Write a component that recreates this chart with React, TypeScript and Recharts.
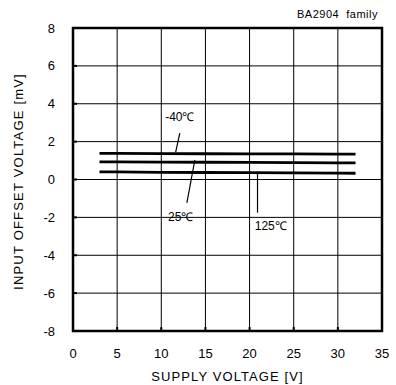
import React from 'react';
import {
  LineChart, Line, XAxis, YAxis, CartesianGrid, ReferenceLine, ReferenceDot, ReferenceArea, Label,
} from 'recharts';

const supplyVoltage = [3, 5, 10, 15, 20, 25, 30, 32];
const offsetM40 = [1.38, 1.38, 1.37, 1.36, 1.35, 1.35, 1.34, 1.34];
const offset25 = [0.93, 0.93, 0.92, 0.91, 0.9, 0.89, 0.88, 0.88];
const offset125 = [0.4, 0.4, 0.38, 0.37, 0.36, 0.35, 0.34, 0.33];

const xTicks = [0, 5, 10, 15, 20, 25, 30, 35];
const yTicks = [-8, -6, -4, -2, 0, 2, 4, 6, 8];

const labels = [
  { text: '-40℃', x: 12.1, y: 3.3, lx1: 12.1, ly1: 2.45, lx2: 11.63, ly2: 1.45 },
  { text: '25℃', x: 12.2, y: -1.95, lx1: 13.8, ly1: 1.03, lx2: 12.9, ly2: -1.24 },
  { text: '125℃', x: 22.4, y: -2.45, lx1: 20.9, ly1: 0.41, lx2: 20.9, ly2: -1.75 },
];

const data = supplyVoltage.map((v, i) => ({
  v,
  m40: offsetM40[i],
  t25: offset25[i],
  t125: offset125[i],
}));

const FONT = 'Liberation Sans, Arial, sans-serif';

const YTitle = (props: any) => {
  const vb = props.viewBox;
  const cx = vb.x + 18;
  const cy = vb.y + vb.height / 2 + 2;
  return (
    <text
      x={cx}
      y={cy}
      transform={`rotate(-90 ${cx} ${cy})`}
      textAnchor="middle"
      dominantBaseline="central"
      fontSize={13}
      letterSpacing={1.2}
      fontFamily={FONT}
      fill="#000"
    >
      INPUT OFFSET VOLTAGE [mV]
    </text>
  );
};

export default function App() {
  return (
    <div style={{ position: 'absolute', left: 0, top: 0, width: 396, height: 385, background: '#fff' }}>
      <div
        style={{
          position: 'absolute',
          right: 18,
          top: 7,
          fontFamily: FONT,
          fontSize: 11,
          letterSpacing: 0.5,
          color: '#000',
          whiteSpace: 'pre',
          lineHeight: '14px',
        }}
      >
        {'BA2904  family'}
      </div>
      <LineChart
        width={396}
        height={385}
        data={data}
        margin={{ top: 28, right: 14, left: 0, bottom: 0 }}
      >
        <CartesianGrid stroke="#000" strokeWidth={1} horizontalValues={yTicks} verticalValues={xTicks} />
        <XAxis
          dataKey="v"
          type="number"
          domain={[0, 35]}
          ticks={xTicks}
          allowDataOverflow
          height={54}
          axisLine={false}
          tickLine={{ stroke: '#000', strokeWidth: 2 }}
          tickSize={-4}
          tickMargin={22}
          tick={{ fill: '#000', fontSize: 13, fontFamily: FONT }}
        >
          <Label
            value="SUPPLY VOLTAGE [V]"
            position="insideBottom"
            offset={4}
            style={{ fontSize: 13, fontFamily: FONT, fill: '#000', letterSpacing: 1.1 }}
          />
        </XAxis>
        <YAxis
          type="number"
          domain={[-8, 8]}
          ticks={yTicks}
          allowDataOverflow
          width={73}
          axisLine={false}
          tickLine={{ stroke: '#000', strokeWidth: 2 }}
          tickSize={-4}
          tickMargin={22}
          tick={{ fill: '#000', fontSize: 13, fontFamily: FONT }}
        >
          <Label content={YTitle} />
        </YAxis>
        <ReferenceArea x1={0} x2={35} y1={-8} y2={8} fill="none" stroke="#000" strokeWidth={2.5} ifOverflow="visible" />
        <Line dataKey="m40" stroke="#000" strokeWidth={2.8} dot={false} isAnimationActive={false} />
        <Line dataKey="t25" stroke="#000" strokeWidth={2.8} dot={false} isAnimationActive={false} />
        <Line dataKey="t125" stroke="#000" strokeWidth={2.8} dot={false} isAnimationActive={false} />
        {labels.map((l) => (
          <ReferenceLine
            key={'l' + l.text}
            segment={[{ x: l.lx1, y: l.ly1 }, { x: l.lx2, y: l.ly2 }]}
            stroke="#000"
            strokeWidth={1.2}
          />
        ))}
        {labels.map((l) => (
          <ReferenceDot
            key={'d' + l.text}
            x={l.x}
            y={l.y}
            r={0}
            fill="none"
            stroke="none"
            label={{ value: l.text, position: 'center', fontSize: 12, fill: '#000', fontFamily: FONT }}
          />
        ))}
      </LineChart>
    </div>
  );
}
